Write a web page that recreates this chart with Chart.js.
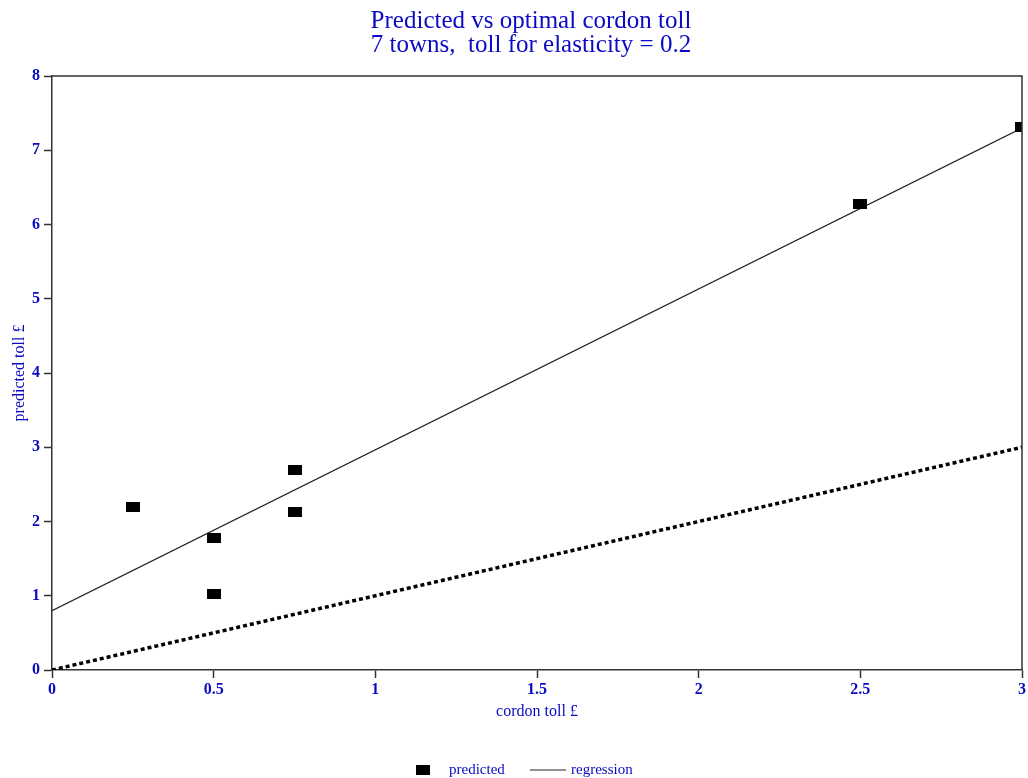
<!DOCTYPE html>
<html>
<head>
<meta charset="utf-8">
<script src="https://cdn.jsdelivr.net/npm/chart.js@4/dist/chart.umd.min.js"></script>
<style>
  html, body { margin: 0; padding: 0; background: #fff; }
</style>
</head>
<body>
<canvas id="tollChart" width="1028" height="778"></canvas>
<script>
// optimal cordon toll (x) vs predicted toll (y), 7 towns
const optimalToll = [0.25, 0.5, 0.5, 0.75, 0.75, 2.5, 3];
const predictedToll = [2.2, 1.78, 1.03, 2.69, 2.13, 6.28, 7.31];

// fitted regression line end points
const regressionX = [0, 3];
const regressionY = [0.8, 7.3];

// 45 degree reference line
const equalX = [0, 3];
const equalY = [0, 3];

const xTicks = [0, 0.5, 1, 1.5, 2, 2.5, 3];
const xTickLabels = ['0', '0.5', '1', '1.5', '2', '2.5', '3'];
const yTicks = [0, 1, 2, 3, 4, 5, 6, 7, 8];

const titleLines = ['Predicted vs optimal cordon toll', '7 towns,  toll for elasticity = 0.2'];

const BLUE = '#0a0ac4';
const FONT = '"Liberation Serif", "DejaVu Serif", serif';

const toPoints = (xs, ys) => xs.map((x, i) => ({ x: x, y: ys[i] }));

// small black bar used as marker
const marker = document.createElement('canvas');
marker.width = 14;
marker.height = 10;
const mctx = marker.getContext('2d');
mctx.fillStyle = '#000';
mctx.fillRect(0, 0, 14, 10);

// title, frame round the plot, legend at the bottom
const framePlugin = {
    id: 'frame',
    afterDraw(chart) {
        const { ctx, chartArea: a } = chart;
        ctx.save();
        ctx.strokeStyle = '#333';
        ctx.lineWidth = 1.5;
        ctx.beginPath();
        ctx.moveTo(a.left, a.top);
        ctx.lineTo(a.right, a.top);
        ctx.lineTo(a.right, a.bottom);
        ctx.stroke();

        // title, centred a bit right of the canvas middle like the original
        ctx.fillStyle = BLUE;
        ctx.textAlign = 'center';
        ctx.textBaseline = 'middle';
        ctx.font = '25px ' + FONT;
        ctx.fillText(titleLines[0], 531, 21);
        ctx.fillText(titleLines[1], 531, 45);

        // legend
        const y = 770;
        ctx.fillStyle = '#000';
        ctx.fillRect(416, y - 5, 14, 10);
        ctx.strokeStyle = '#222';
        ctx.lineWidth = 1.2;
        ctx.beginPath();
        ctx.moveTo(530, y);
        ctx.lineTo(566, y);
        ctx.stroke();
        ctx.fillStyle = BLUE;
        ctx.textAlign = 'left';
        ctx.font = '15px ' + FONT;
        ctx.fillText('predicted', 449, y);
        ctx.fillText('regression', 571, y);
        ctx.restore();
    }
};

const canvas = document.getElementById('tollChart');
new Chart(canvas.getContext('2d'), {
    type: 'scatter',
    data: {
        datasets: [
            {
                label: 'predicted',
                data: toPoints(optimalToll, predictedToll),
                pointStyle: marker,
                pointRadius: 7,
                showLine: false
            },
            {
                label: 'regression',
                type: 'line',
                data: toPoints(regressionX, regressionY),
                borderColor: '#222',
                borderWidth: 1.2,
                pointRadius: 0,
                fill: false
            },
            {
                label: 'equal',
                type: 'line',
                data: toPoints(equalX, equalY),
                borderColor: '#000',
                borderWidth: 3.5,
                borderDash: [4, 3],
                pointRadius: 0,
                fill: false
            }
        ]
    },
    options: {
        responsive: false,
        animation: false,
        layout: { autoPadding: false, padding: { left: 0, right: 2, top: 76, bottom: 53 } },
        plugins: {
            legend: { display: false },
            tooltip: { enabled: false },
            title: { display: false }
        },
        scales: {
            x: {
                type: 'linear',
                min: 0,
                max: 3,
                afterBuildTicks: s => { s.ticks = xTicks.map(v => ({ value: v })); },
                afterFit: s => { s.height = 55; },
                grid: { drawOnChartArea: false, color: '#333', tickLength: 8, tickWidth: 1.5 },
                border: { color: '#333', width: 1.5 },
                ticks: {
                    color: BLUE,
                    font: { family: FONT, size: 16, weight: 'bold' },
                    padding: 2,
                    maxRotation: 0,
                    callback: (v, i) => xTickLabels[i]
                },
                title: {
                    display: true,
                    text: 'cordon toll £',
                    color: BLUE,
                    font: { family: FONT, size: 16 },
                    padding: { top: 4, bottom: 4 }
                }
            },
            y: {
                type: 'linear',
                min: 0,
                max: 8,
                afterBuildTicks: s => { s.ticks = yTicks.map(v => ({ value: v })); },
                afterFit: s => { s.width = 52; },
                grid: { drawOnChartArea: false, color: '#333', tickLength: 8, tickWidth: 1.5 },
                border: { color: '#333', width: 1.5 },
                ticks: { color: BLUE, font: { family: FONT, size: 16, weight: 'bold' }, padding: 4 },
                title: {
                    display: true,
                    text: 'predicted toll £',
                    color: BLUE,
                    font: { family: FONT, size: 16 },
                    padding: { top: 10, bottom: 10 }
                }
            }
        }
    },
    plugins: [framePlugin]
});
</script>
</body>
</html>
